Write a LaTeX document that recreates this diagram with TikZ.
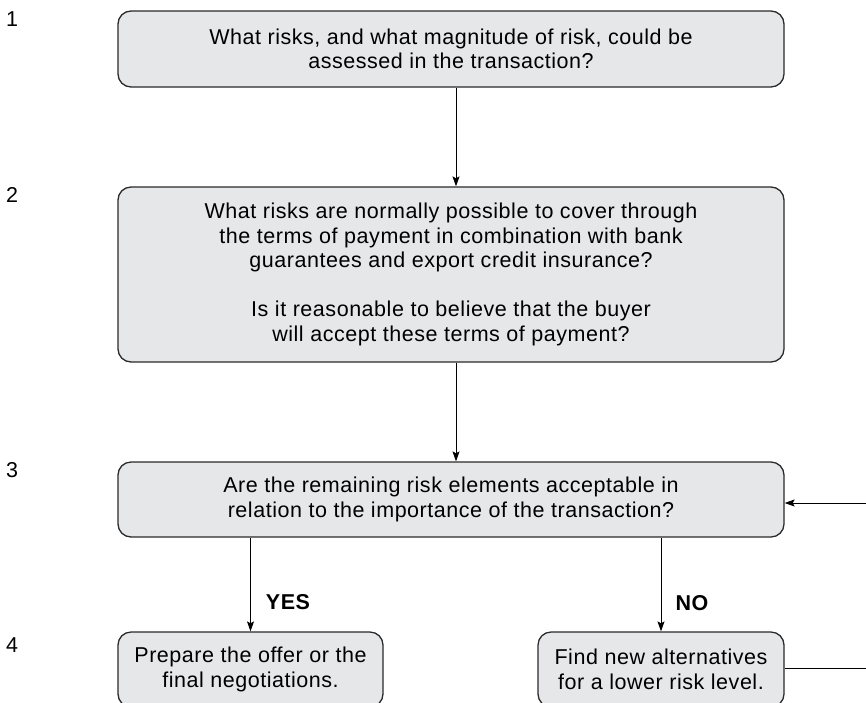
\documentclass[tikz,border=0pt]{standalone}
\usepackage{fontspec}
\setmainfont{Liberation Sans}[LetterSpace=2.5]
\usetikzlibrary{arrows.meta}
\definecolor{boxfill}{HTML}{E6E7E8}
\definecolor{boxline}{HTML}{2A2A2A}
\begin{document}
\begin{tikzpicture}[x=1pt,y=-1pt,
  box/.style={draw=boxline, fill=boxfill, line width=1.3pt, rounded corners=13pt,
    align=center, inner sep=0pt, font=\fontsize{21.5}{24.5}\selectfont},
  arr/.style={-{Stealth[length=10pt,width=7pt,inset=2pt]}, line width=0.9pt},
  link/.style={line width=0.9pt},
  num/.style={font=\fontsize{21.5}{24.5}\selectfont},
  ans/.style={font=\fontsize{21.5}{24.5}\selectfont\bfseries}]
\useasboundingbox (0,0) rectangle (866,702);
\clip (0,0) rectangle (866,702);

% step numbers
\node[num] (n1) at (12,19.5) {1};
\node[num] (n2) at (12,194.5) {2};
\node[num] (n3) at (12,470) {3};
\node[num] (n4) at (12,645) {4};

% boxes
\node[box, minimum width=666pt, minimum height=76pt] (b1) at (451,49)
  {What risks, and what magnitude of risk, could be\\assessed in the transaction?};
\node[box, minimum width=666pt, minimum height=175pt] (b2) at (451,274.5)
  {What risks are normally possible to cover through\\
   the terms of payment in combination with bank\\
   guarantees and export credit insurance?\\[24.5pt]
   Is it reasonable to believe that the buyer\\
   will accept these terms of payment?};
\node[box, minimum width=666pt, minimum height=75pt] (b3) at (451,499.5)
  {Are the remaining risk elements acceptable in\\relation to the importance of the transaction?};
\node[box, minimum width=265pt, minimum height=75pt] (b4) at (250.5,669.5)
  {Prepare the offer or the\\final negotiations.};
\node[box, minimum width=246pt, minimum height=75pt] (b5) at (661,669.5)
  {Find new alternatives\\for a lower risk level.};

% connectors
\draw[arr] ([xshift=5pt]b1.south) -- ([xshift=5pt]b2.north);
\draw[arr] ([xshift=5pt]b2.south) -- ([xshift=5pt]b3.north);
\draw[arr] (b3.south -| b4.north) -- (b4.north);
\draw[arr] (b3.south -| b5.north) -- (b5.north);
\node[ans] (yes) at (288,602) {YES};
\node[ans] (no) at (692,603) {NO};

% return loop at the right edge
\coordinate (r3) at (866,503);
\coordinate (r5) at (866,668);
\draw[link] (b5.east |- r5) -- (r5);
\draw[arr] (r3) -- (r3 -| b3.east);
\end{tikzpicture}
\end{document}
